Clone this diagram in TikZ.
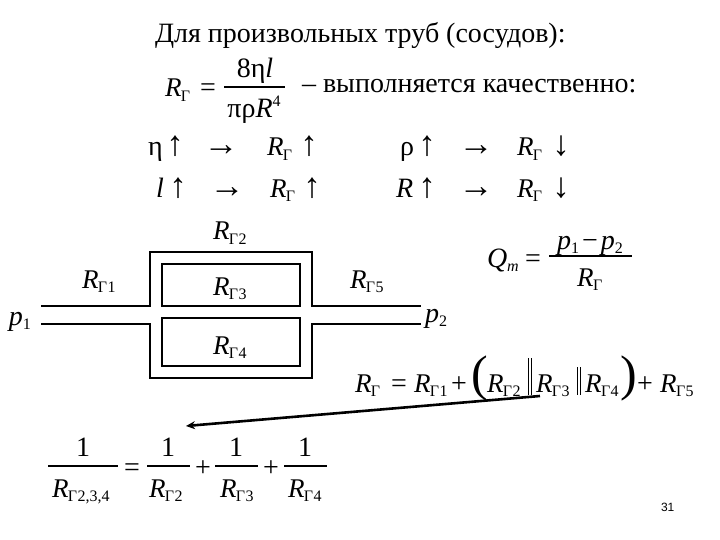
\documentclass[tikz,border=0pt]{standalone}
\usepackage{fontspec}
\setmainfont{Liberation Serif}
\setsansfont{Liberation Sans}
\usetikzlibrary{arrows.meta}
\newcommand\fs[1]{\fontsize{#1}{#1}\selectfont}
\newcommand\RG[1]{{\fs{27}\itshape R}\kern-0.5pt\raisebox{-4.5pt}{\fs{16}Γ\kern0.5pt#1}}
\newcommand\Sub[1]{\raisebox{-4.5pt}{\fs{16}#1}}
\tikzset{
  x=1pt,y=-1pt,
  tx/.style={anchor=base west,inner sep=0pt,outer sep=0pt,font=\fs{28}},
  mt/.style={anchor=base west,inner sep=0pt,outer sep=0pt,font=\fs{28}},
  ct/.style={anchor=base,inner sep=0pt,outer sep=0pt,font=\fs{28}},
  ar/.style={anchor=base,inner sep=0pt,outer sep=0pt,font=\fs{35}},
  pipe/.style={line width=2pt,line cap=rect,line join=miter},
  fr/.style={line width=1.1pt},
  bar/.style={line width=0.9pt},
  pointer/.style={line width=2.6pt,-{Stealth[length=9pt,width=8pt]}}
}
\begin{document}
\begin{tikzpicture}
\useasboundingbox (0,0) rectangle (720,540);
\fill[white] (0,0) rectangle (720,540);
% title
\node[tx] (title) at (155,43) {Для произвольных труб (сосудов):};
% formula 1
\node[mt] (r0) at (165,97) {\RG{}};
\node[mt] (eq0) at (200,97) {=};
\node[ct] (n0) at (255,78) {8η\textit{l}};
\draw[fr] (224,87) -- (285,87);
\node[ct] (d0) at (254,118) {πρ\textit{R}\raisebox{11pt}{\fs{16}4}};
\node[tx] (q) at (302,93) {– выполняется качественно:};
% rows
\node[mt] (a1) at (148,156) {η};
\node[ar] (a2) at (175,156) {↑};
\node[ar] (a3) at (221,156) {→};
\node[mt] (a4) at (267,156) {\RG{}};
\node[ar] (a5) at (309,156) {↑};
\node[mt] (b1) at (400,156) {ρ};
\node[ar] (b2) at (427,156) {↑};
\node[ar] (b3) at (476,156) {→};
\node[mt] (b4) at (517,156) {\RG{}};
\node[ar] (b5) at (561,156) {↓};
\node[mt] (c1) at (156,197) {\textit{l}};
\node[ar] (c2) at (178,197) {↑};
\node[ar] (c3) at (227,197) {→};
\node[mt] (c4) at (270,197) {\RG{}};
\node[ar] (c5) at (312,197) {↑};
\node[mt] (e1) at (396,197) {\textit{R}};
\node[ar] (e2) at (427,197) {↑};
\node[ar] (e3) at (476,197) {→};
\node[mt] (e4) at (517,197) {\RG{}};
\node[ar] (e5) at (561,197) {↓};
% pipes
\draw[pipe] (42,306) -- (150,306) -- (150,252) -- (312,252) -- (312,306) -- (420,306);
\draw[pipe] (42,323.5) -- (150,323.5) -- (150,377.5) -- (312,377.5) -- (312,323.5) -- (420,323.5);
\draw[pipe] (162,264) rectangle (300,306);
\draw[pipe] (162,318) rectangle (300,366);
\node[mt] (g2) at (213,240) {\RG{2}};
\node[mt] (g1) at (82,288) {\RG{1}};
\node[mt] (g3) at (213,295) {\RG{3}};
\node[mt] (g4) at (213,354) {\RG{4}};
\node[mt] (g5) at (350,288) {\RG{5}};
\node[mt] (p1) at (9,325) {\textit{p}\Sub{1}};
\node[mt] (p2) at (425,322) {\textit{p}\Sub{2}};
% Qm
\node[mt] (qm) at (487,267) {\textit{Q}\Sub{\textit{m}}};
\node[mt] (eqq) at (525,267) {=};
\node[ct] (qn) at (590,249) {\textit{p}\Sub{1}\kern3pt−\kern3pt\textit{p}\Sub{2}};
\draw[fr] (549,256) -- (632,256);
\node[ct] (qd) at (590,286) {\RG{}};
% sum formula
\node[mt] (s0) at (355,392) {\RG{}};
\node[mt] (s1) at (391,392) {=};
\node[mt] (s2) at (414,392) {\RG{1}};
\node[mt] (s3) at (451,392) {+};
\node[mt,font=\fs{50}] (s4) at (471,390) {(};
\node[mt] (s5) at (487,392) {\RG{2}};
\draw[bar] (528.5,358) -- (528.5,395) (531.5,358) -- (531.5,395);
\node[mt] (s6) at (536,392) {\RG{3}};
\draw[bar] (577,367) -- (577,395) (580,367) -- (580,395);
\node[mt] (s7) at (585,392) {\RG{4}};
\node[mt,font=\fs{50}] (s8) at (620,390) {)};
\node[mt] (s9) at (637,392) {+};
\node[mt] (s10) at (660,392) {\RG{5}};
% arrow
\coordinate (from) at (540,396);
\coordinate (to) at (186,426);
\draw[pointer] (from) -- (to);
% bottom formula
\node[ct] (f1) at (83,456) {1};
\draw[fr] (48,466) -- (118,466);
\node[mt] (fd1) at (52,497) {\RG{2,3,4}};
\node[mt] (feq) at (124,476) {=};
\node[ct] (f2) at (168,456) {1};
\draw[fr] (147,466) -- (190,466);
\node[mt] (fd2) at (149,497) {\RG{2}};
\node[mt] (fp1) at (195,476) {+};
\node[ct] (f3) at (236,456) {1};
\draw[fr] (215,466) -- (258,466);
\node[mt] (fd3) at (220,497) {\RG{3}};
\node[mt] (fp2) at (263,476) {+};
\node[ct] (f4) at (305,456) {1};
\draw[fr] (284,466) -- (327,466);
\node[mt] (fd4) at (288,497) {\RG{4}};
% page number
\node[tx,font=\sffamily\fs{12}] (num) at (661,511) {31};
\end{tikzpicture}
\end{document}
